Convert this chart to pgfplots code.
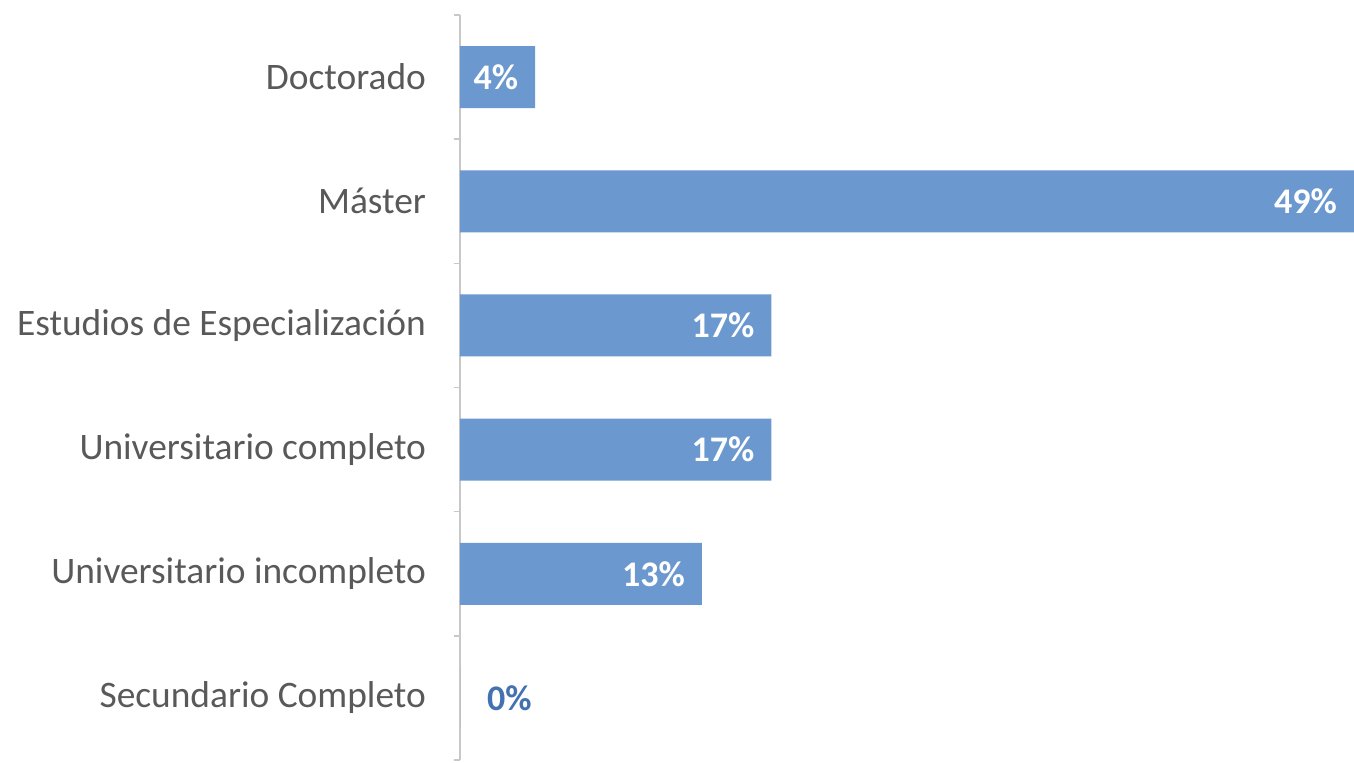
\documentclass[border=0pt]{standalone}
\usepackage{pgfplots}
\pgfplotsset{compat=1.18}
\usepackage{fontspec}
\setmainfont{Carlito}
\definecolor{barblue}{RGB}{106,152,207}
\definecolor{labgray}{RGB}{89,89,89}
\definecolor{axgray}{RGB}{200,200,200}
\definecolor{darkblue}{RGB}{68,114,176}
\pgfplotstableread{
y val lab
0 4.1 4\%
1 48.8 49\%
2 17.0 17\%
3 17.0 17\%
4 13.2 13\%
}\mainbars
\pgfplotstableread{
y val lab
5 0 0\%
}\zerobar
\begin{document}
\begin{tikzpicture}
\begin{axis}[
  name=ax,
  scale only axis,
  width=447pt, height=372.5pt,
  xmin=0, xmax=48.8,
  ymin=-0.5, ymax=5.5,
  y dir=reverse,
  hide x axis,
  axis y line*=left,
  y axis line style={axgray, line width=1pt},
  ytick={0,...,5},
  yticklabels={Doctorado,Máster,Estudios de Especialización,Universitario completo,Universitario incompleto,Secundario Completo},
  major tick length=0pt,
  minor ytick={-0.5,0.5,1.5,2.5,3.5,4.5,5.5},
  minor tick length=3pt,
  tick align=outside,
  minor tick style={axgray, line width=0.8pt},
  yticklabel style={text=labgray, font=\fontsize{18.7}{22}\selectfont, xshift=-13.5pt},
  xbar, bar width=31pt, bar shift=0pt,
  clip=false,
]
\addplot[fill=barblue, draw=none,
  point meta=explicit symbolic,
  nodes near coords,
  every node near coord/.append style={anchor=east, xshift=-5pt, text=white, font=\bfseries\fontsize{18}{21}\selectfont}]
  table[x=val, y=y, meta=lab] {\mainbars};
\addplot[fill=barblue, draw=none,
  point meta=explicit symbolic,
  nodes near coords,
  every node near coord/.append style={anchor=west, xshift=10pt, text=darkblue, font=\bfseries\fontsize{18}{21}\selectfont}]
  table[x=val, y=y, meta=lab] {\zerobar};
\end{axis}
\path[use as bounding box] ([xshift=-230pt, yshift=-1.5pt]ax.south west) rectangle ([yshift=7.5pt]ax.north east);
\end{tikzpicture}
\end{document}
